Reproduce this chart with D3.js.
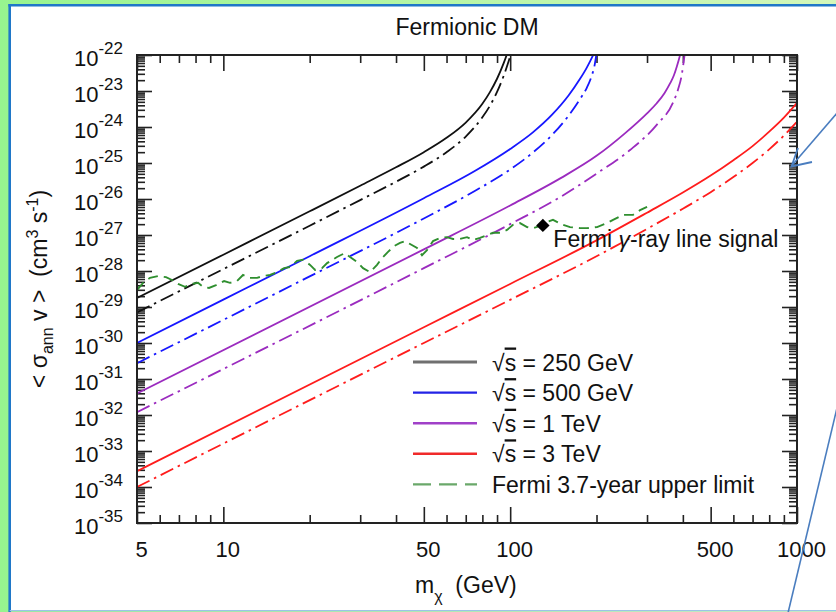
<!DOCTYPE html>
<html><head><meta charset="utf-8">
<script src="https://cdn.jsdelivr.net/npm/d3@7"></script>
<style>
body{margin:0;background:#fff}
svg{display:block}
text{font-family:"Liberation Sans",Arial,Helvetica,sans-serif;fill:#111}
</style>
</head><body>
<svg id="c" width="836" height="612"></svg>
<script>
// ---------------- DATA ----------------
const xDomain = [5, 1000];
const yDomain = [1e-35, 1e-22];
const xTickValues = [5, 10, 50, 100, 500, 1000];
const xTickLabels = ["5", "10", "50", "100", "500", "1000"];
const xMinorTicks = [6, 7, 8, 9, 20, 30, 40, 60, 70, 80, 90, 200, 300, 400, 600, 700, 800, 900];
const yTickValues = [1e-35,1e-34,1e-33,1e-32,1e-31,1e-30,1e-29,1e-28,1e-27,1e-26,1e-25,1e-24,1e-23,1e-22];
const yTickExponents = ["-35","-34","-33","-32","-31","-30","-29","-28","-27","-26","-25","-24","-23","-22"];

// sqrt(s) = 250 GeV
const mass250Solid = [5, 10, 20, 30, 40, 50, 60, 70, 80, 85, 90, 95, 98, 100];
const sigma250Solid = [1.78e-29, 2.84e-28, 4.55e-27, 2.34e-26, 7.59e-26, 2.0e-25, 5.01e-25, 1.33e-24, 4.42e-24, 9.33e-24, 2.19e-23, 6.03e-23, 1.20e-22, 2.0e-22];
const mass250Dash = [5, 10, 20, 30, 40, 50, 60, 70, 80, 85, 90, 95, 98, 101, 103];
const sigma250Dash = [7.08e-30, 1.13e-28, 1.81e-27, 9.33e-27, 3.02e-26, 7.94e-26, 2.0e-25, 5.43e-25, 1.86e-24, 3.89e-24, 9.44e-24, 2.69e-23, 5.50e-23, 1.23e-22, 2.19e-22];
// sqrt(s) = 500 GeV
const mass500Solid = [5, 10, 20, 50, 75, 100, 120, 140, 160, 175, 185, 195, 200];
const sigma500Solid = [1.0e-30, 1.60e-29, 2.57e-28, 1.05e-26, 5.89e-26, 2.45e-25, 7.08e-25, 2.19e-24, 7.59e-24, 2.14e-23, 4.47e-23, 1.02e-22, 1.58e-22];
const mass500Dash = [5, 20, 50, 75, 100, 120, 140, 160, 175, 185, 192, 197, 200, 203];
const sigma500Dash = [2.75e-31, 7.08e-29, 2.88e-27, 1.64e-26, 6.61e-26, 1.95e-25, 6.03e-25, 2.09e-24, 5.89e-24, 1.23e-23, 2.51e-23, 5.25e-23, 1.10e-22, 2.51e-22];
// sqrt(s) = 1 TeV
const mass1000Solid = [5, 50, 100, 150, 200, 250, 300, 324.3, 345, 360.9, 372, 380.9, 391.2, 398];
const sigma1000Solid = [3.98e-32, 3.98e-28, 6.61e-27, 3.80e-26, 1.58e-25, 6.46e-25, 2.40e-24, 4.57e-24, 8.71e-24, 1.62e-23, 2.69e-23, 4.73e-23, 1.0e-22, 1.78e-22];
const mass1000Dash = [5, 50, 100, 150, 200.4, 261.8, 324.3, 370.7, 385, 396.5, 404, 409];
const sigma1000Dash = [1.20e-32, 1.20e-28, 2.0e-27, 1.15e-26, 5.13e-26, 2.29e-25, 1.15e-24, 5.01e-24, 1.12e-23, 2.82e-23, 7.94e-23, 1.78e-22];
// sqrt(s) = 3 TeV
const mass3000Solid = [5, 50, 100, 200, 300, 400, 500, 600, 700, 800, 900, 1000];
const sigma3000Solid = [2.75e-34, 2.75e-30, 4.37e-29, 7.08e-28, 4.17e-27, 1.51e-26, 4.47e-26, 1.20e-25, 2.95e-25, 7.41e-25, 1.82e-24, 4.68e-24];
const mass3000Dash = [5, 50, 100, 200, 300, 400, 500, 600, 700, 800, 900, 1000];
const sigma3000Dash = [1.0e-34, 1.0e-30, 1.58e-29, 2.57e-28, 1.48e-27, 5.37e-27, 1.55e-26, 4.07e-26, 1.0e-25, 2.40e-25, 5.75e-25, 1.41e-24];

// Fermi 3.7-year upper limit
const massFermi = [5.0,5.25,5.55,5.92,6.31,6.62,6.95,7.35,7.77,8.16,8.5,8.91,9.43,10.06,10.55,11.16,11.71,12.29,13.11,13.75,14.55,15.38,16.28,17.08,18.07,18.96,20.06,20.88,22.08,23.0,24.91,26.56,27.65,29.24,30.69,32.46,34.34,35.75,37.51,39.36,41.3,43.0,44.76,47.35,49.28,51.29,53.83,56.94,60.22,63.19,66.84,70.7,74.18,78.51,83.04,87.13,92.17,97.49,102.3,108.2,114.5,120.1,127.1,134.4,141.0,152.9,161.7,175.3,185.4,200.9,217.7,228.4,247.5,268.2,283.7,300.1];
const sigmaFermi = [2.95e-29,4.68e-29,6.46e-29,7.24e-29,6.76e-29,5.62e-29,4.37e-29,3.63e-29,4.37e-29,4.68e-29,3.63e-29,3.39e-29,4.07e-29,5.25e-29,4.68e-29,5.25e-29,7.76e-29,6.46e-29,6.46e-29,7.24e-29,7.76e-29,9.33e-29,1.20e-28,1.29e-28,1.91e-28,2.04e-28,1.48e-28,1.07e-28,1.20e-28,1.66e-28,2.45e-28,3.16e-28,2.45e-28,1.78e-28,1.20e-28,9.33e-29,1.48e-28,2.29e-28,3.39e-28,4.90e-28,6.03e-28,6.76e-28,5.62e-28,4.37e-28,2.75e-28,3.80e-28,6.76e-28,8.32e-28,8.71e-28,7.76e-28,7.76e-28,8.71e-28,7.24e-28,8.32e-28,1.00e-27,1.15e-27,1.15e-27,1.38e-27,1.91e-27,2.14e-27,1.66e-27,1.55e-27,1.78e-27,2.29e-27,2.63e-27,1.91e-27,1.66e-27,1.55e-27,1.55e-27,1.66e-27,2.14e-27,2.63e-27,3.63e-27,3.63e-27,4.90e-27,6.03e-27];

// Fermi gamma-ray line signal point
const signalMass = [130];
const signalSigma = [1.85e-27];

const legendLabels = ["250 GeV", "500 GeV", "1 TeV", "3 TeV"];
const fermiLabel = "Fermi 3.7-year upper limit";

// ---------------- DRAW ----------------
const svg = d3.select("#c");
const W = 836, H = 612;
const X0 = 137, X1 = 797, YB = 523, YT = 55;
const x = d3.scaleLog().domain(xDomain).range([X0, X1]);
const y = d3.scaleLog().domain(yDomain).range([YB, YT]);
const FONT = '"Liberation Sans",Arial,Helvetica,sans-serif';

// background frame
const defs = svg.append("defs");
const grad = defs.append("linearGradient").attr("id", "bg").attr("x1", 0).attr("x2", 1).attr("y1", 0).attr("y2", 0);
grad.append("stop").attr("offset", "0").attr("stop-color", "#97f48f");
grad.append("stop").attr("offset", "1").attr("stop-color", "#d3f7ba");
svg.append("rect").attr("width", W).attr("height", H).attr("fill", "url(#bg)");
svg.append("rect").attr("x", 9.7).attr("y", 5.3).attr("width", W).attr("height", H - 6.5).attr("fill", "#fff");
svg.append("line").attr("x1", 8.4).attr("x2", W).attr("y1", 5.3).attr("y2", 5.3).attr("stroke", "#1f77c8").attr("stroke-width", 2.6);
svg.append("line").attr("x1", 9.7).attr("x2", 9.7).attr("y1", 4).attr("y2", H).attr("stroke", "#1f77c8").attr("stroke-width", 2.6);
svg.append("line").attr("x1", 9.7).attr("x2", W).attr("y1", 610.6).attr("y2", 610.6).attr("stroke", "#9dc3e6").attr("stroke-width", 1.2);

defs.append("clipPath").attr("id", "plotclip").append("rect")
  .attr("x", X0).attr("y", YT).attr("width", X1 - X0).attr("height", YB - YT);

// ticks
function tickAxis(axis, transform, values, size) {
  const g = svg.append("g").attr("transform", transform)
    .call(axis.tickValues(values).tickSizeInner(-size).tickSizeOuter(0).tickFormat(""));
  g.select(".domain").remove();
  g.selectAll(".tick text").remove();
  g.selectAll(".tick line").attr("stroke", "#222").attr("stroke-width", 1.6);
  return g;
}
const yMinorTicks = d3.range(-35, -22).flatMap(e => [2,3,4,5,6,7,8,9].map(k => k * Math.pow(10, e)));
tickAxis(d3.axisBottom(x), `translate(0,${YB})`, xTickValues, 16);
tickAxis(d3.axisBottom(x), `translate(0,${YB})`, xMinorTicks, 8);
tickAxis(d3.axisTop(x), `translate(0,${YT})`, xTickValues, 16);
tickAxis(d3.axisTop(x), `translate(0,${YT})`, xMinorTicks, 8);
tickAxis(d3.axisLeft(y), `translate(${X0},0)`, yTickValues, 15);
tickAxis(d3.axisLeft(y), `translate(${X0},0)`, yMinorTicks, 8);
tickAxis(d3.axisRight(y), `translate(${X1},0)`, yTickValues, 15);
tickAxis(d3.axisRight(y), `translate(${X1},0)`, yMinorTicks, 8);

// tick labels (x)
const gxl = svg.append("g").attr("transform", `translate(0,${YB})`)
  .call(d3.axisBottom(x).tickValues(xTickValues).tickSize(0).tickFormat((d, i) => xTickLabels[i]));
gxl.select(".domain").remove();
gxl.attr("font-family", FONT).attr("font-size", 22);
gxl.selectAll(".tick text").attr("y", 34).attr("dy", null).attr("x", 4).attr("fill", "#111");

// tick labels (y)
const gyl = svg.append("g").attr("transform", `translate(${X0},0)`)
  .call(d3.axisLeft(y).tickValues(yTickValues).tickSize(0).tickFormat(""));
gyl.select(".domain").remove();
gyl.attr("font-family", FONT).attr("font-size", 22);
gyl.selectAll(".tick text").each(function(d, i) {
  const t = d3.select(this).text(null).attr("x", -14).attr("y", 10.5).attr("dy", null)
    .attr("text-anchor", "end").attr("fill", "#111");
  t.append("tspan").text("10");
  t.append("tspan").attr("dy", -12.5).attr("font-size", 17).text(yTickExponents[i]);
});

// curves
const lineGen = d3.line().x(d => x(d[0])).y(d => y(d[1])).curve(d3.curveMonotoneX);
const DD = "14,5,2.5,5";
const curves = [
  {m: mass250Solid, s: sigma250Solid, c: "#111111", dash: null},
  {m: mass250Dash, s: sigma250Dash, c: "#111111", dash: DD},
  {m: mass500Solid, s: sigma500Solid, c: "#1717ff", dash: null},
  {m: mass500Dash, s: sigma500Dash, c: "#1717ff", dash: DD},
  {m: mass1000Solid, s: sigma1000Solid, c: "#9b2bbf", dash: null},
  {m: mass1000Dash, s: sigma1000Dash, c: "#9b2bbf", dash: DD},
  {m: mass3000Solid, s: sigma3000Solid, c: "#ff1c1c", dash: null},
  {m: mass3000Dash, s: sigma3000Dash, c: "#ff1c1c", dash: DD}
];
const gc = svg.append("g").attr("clip-path", "url(#plotclip)");
curves.forEach(cv => {
  gc.append("path").datum(cv.m.map((m, i) => [m, cv.s[i]]))
    .attr("d", lineGen).attr("fill", "none").attr("stroke", cv.c)
    .attr("stroke-width", 1.8).attr("stroke-dasharray", cv.dash);
});
const fermiLine = d3.line().x(d => x(d[0])).y(d => y(d[1]));
gc.append("path").datum(massFermi.map((m, i) => [m, sigmaFermi[i]]))
  .attr("d", fermiLine).attr("fill", "none").attr("stroke", "#2f8f2f")
  .attr("stroke-width", 1.9).attr("stroke-dasharray", "10,6");

// signal diamond
svg.selectAll(".sig").data(signalMass).enter().append("path")
  .attr("transform", (d, i) => `translate(${x(d)},${y(signalSigma[i])}) rotate(45)`)
  .attr("d", d3.symbol(d3.symbolSquare, 90)).attr("fill", "#000");
const sigText = svg.append("text")
  .attr("x", x(signalMass[0]) + 10.5).attr("y", y(signalSigma[0]) + 22)
  .attr("font-size", 23);
sigText.append("tspan").text("Fermi ");
sigText.append("tspan").attr("font-style", "italic").text("γ");
sigText.append("tspan").text("-ray line signal");

// frame
svg.append("rect").attr("x", X0).attr("y", YT).attr("width", X1 - X0).attr("height", YB - YT)
  .attr("fill", "none").attr("stroke", "#222").attr("stroke-width", 2);

// title
svg.append("text").attr("x", (X0 + X1) / 2).attr("y", 35).attr("text-anchor", "middle")
  .attr("font-size", 23).text("Fermionic DM");

// x axis title
const xt = svg.append("text").attr("x", 415).attr("y", 593).attr("font-size", 23);
xt.append("tspan").text("m");
xt.append("tspan").attr("font-size", 16).attr("dy", 9).text("χ");
xt.append("tspan").attr("dy", -9).text("\u00a0\u00a0(GeV)");

// y axis title
const yt = svg.append("text").attr("transform", "translate(47,289) rotate(-90)")
  .attr("text-anchor", "middle").attr("font-size", 23);
yt.append("tspan").text("<\u00a0σ");
yt.append("tspan").attr("font-size", 16).attr("dy", 6).text("ann");
yt.append("tspan").attr("dy", -6).text("\u00a0v\u00a0>\u00a0\u00a0(cm");
yt.append("tspan").attr("font-size", 16).attr("dy", -9).text("3");
yt.append("tspan").attr("dy", 9).text("\u00a0s");
yt.append("tspan").attr("font-size", 16).attr("dy", -9).text("-1");
yt.append("tspan").attr("dy", 9).text(")");

// legend
const legColors = ["#707070", "#2323e6", "#a040c8", "#f02a2a"];
const legWidths = [3, 2.4, 2.4, 2.4];
const legTop = 362, legStep = 30.6;
legendLabels.forEach((lab, i) => {
  const yy = legTop + i * legStep;
  svg.append("line").attr("x1", 413).attr("x2", 477).attr("y1", yy).attr("y2", yy)
    .attr("stroke", legColors[i]).attr("stroke-width", legWidths[i]);
  const t = svg.append("text").attr("x", 492).attr("y", yy + 8.5).attr("font-size", 23);
  t.append("tspan").text("√");
  t.append("tspan").attr("text-decoration", "overline").style("text-decoration", "overline").text("s");
  t.append("tspan").text("\u00a0=\u00a0" + lab);
});
{
  const yy = legTop + 4 * legStep;
  svg.append("line").attr("x1", 413).attr("x2", 477).attr("y1", yy).attr("y2", yy)
    .attr("stroke", "#6aa86a").attr("stroke-width", 2.4).attr("stroke-dasharray", "18,8");
  svg.append("text").attr("x", 492).attr("y", yy + 8.5).attr("font-size", 23).text(fermiLabel);
}

// annotation arrows
svg.append("line").attr("x1", 838).attr("y1", 112).attr("x2", 791.5).attr("y2", 166)
  .attr("stroke", "#4a7dbf").attr("stroke-width", 1.6);
svg.append("polyline").attr("points", "812,162 791.5,166.5 798,148")
  .attr("fill", "none").attr("stroke", "#4a7dbf").attr("stroke-width", 1.8);
svg.append("line").attr("x1", 788).attr("y1", 613).attr("x2", 837).attr("y2", 408)
  .attr("stroke", "#4a7dbf").attr("stroke-width", 1.6);
</script>
</body></html>
